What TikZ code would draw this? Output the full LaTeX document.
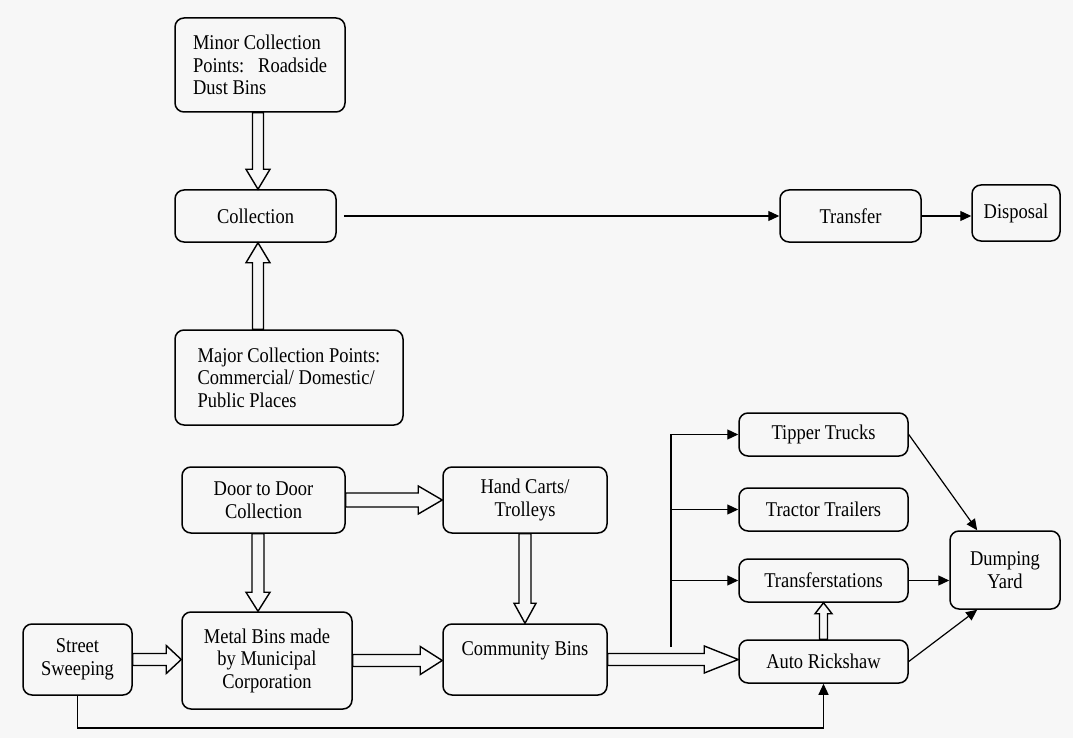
\documentclass[tikz,border=0pt]{standalone}
\usepackage{fontspec}
\setmainfont{LiberationSerif}[Extension=.ttf,UprightFont=*-Regular,BoldFont=*-Bold,ItalicFont=*-Italic,FakeStretch=0.88]
\usetikzlibrary{calc,arrows.meta}

\definecolor{bg}{RGB}{247,247,247}

% hollow block arrow: half shaft, half head, head length, from, to
\newcommand{\blockarrow}[5]{%
  \draw[line width=1.4pt,fill=bg] let \p1=#4, \p2=#5,
      \n1={atan2(\y2-\y1,\x2-\x1)}, \n2={veclen(\x2-\x1,\y2-\y1)} in
    [shift={(\p1)},rotate=\n1]
    (0,-#1) -- ({\n2-#3},-#1) -- ({\n2-#3},-#2) -- (\n2,0)
    -- ({\n2-#3},#2) -- ({\n2-#3},#1) -- (0,#1) -- cycle;}

\tikzset{
  box/.style={draw,line width=1.5pt,rounded corners=9pt,inner sep=0pt,
    align=center,font=\fontsize{21}{22.5}\selectfont},
  note/.style={box,align=left},
  line/.style={line width=1.2pt,-{Triangle[length=11pt,width=10pt]}}
}

\begin{document}
\begin{tikzpicture}[x=1pt,y=-1pt]
            \fill[bg] (0,0) rectangle (1073,738);
            \coordinate (col) at (258,0);
            \coordinate (fork) at (671,647);
            \coordinate (low) at (0,728);

            % top part
            \node[note,minimum width=170pt,minimum height=94pt] (minor) at (260,65) {Minor Collection\\Points:\ \ \ Roadside\\Dust Bins};
            \node[box,minimum width=161pt,minimum height=52pt] (collection) at (255.5,216) {Collection};
            \node[note,minimum width=228pt,minimum height=95pt] (major) at (289,377.5) {Major Collection Points:\\Commercial/ Domestic/\\Public Places};
            \node[box,minimum width=141pt,minimum height=52pt] (transfer) at (850.5,216) {Transfer};
            \node[box,minimum width=88pt,minimum height=56pt] (disposal) at (1016,213) {Disposal};

            \blockarrow{5.5}{12}{20}{(minor.south -| col)}{(collection.north -| col)}
            \blockarrow{5.5}{12}{20}{(major.north -| col)}{(collection.south -| col)}
            \draw[line,shorten <=7pt] (collection.east) -- (transfer.west);
            \draw[line] (transfer.east) -- (transfer.east -| disposal.west);

            % bottom part
            \node[box,minimum width=163pt,minimum height=66pt] (door) at (263.5,500) {Door to Door\\Collection};
            \node[box,minimum width=164pt,minimum height=66pt] (hand) at (525,500) {Hand Carts/\\Trolleys};
            \node[box,minimum width=109pt,minimum height=71pt] (sweep) at (77.5,659.5) {Street\\Sweeping};
            \node[box,minimum width=170pt,minimum height=97pt] (metal) at (267,660.5) {Metal Bins made\\by Municipal\\Corporation};
            \node[box,minimum width=164pt,minimum height=71pt] (comm) at (525,659.5) {Community Bins\\ \mbox{}};
            \node[box,minimum width=169pt,minimum height=43pt] (tipper) at (823.5,434.5) {Tipper Trucks};
            \node[box,minimum width=169pt,minimum height=43pt] (tractor) at (823.5,509.5) {Tractor Trailers};
            \node[box,minimum width=169pt,minimum height=43pt] (transst) at (823.5,580.5) {Transferstations};
            \node[box,minimum width=169pt,minimum height=43pt] (auto) at (823.5,661.5) {Auto Rickshaw};
            \node[box,minimum width=110pt,minimum height=78pt] (dump) at (1005,570) {Dumping\\Yard};

            \blockarrow{7}{14}{24}{(door.east)}{(hand.west)}
            \blockarrow{6}{12}{19}{(door.south -| col)}{(metal.north -| col)}
            \blockarrow{6}{11}{20}{(hand.south)}{(comm.north)}
            \blockarrow{6}{14}{15}{(sweep.east)}{(metal.west |- sweep.east)}
            \blockarrow{6}{14}{22}{(metal.east)}{(comm.west |- metal.east)}
            \blockarrow{6}{13.5}{34}{(comm.east)}{(auto.west |- comm.east)}
            \blockarrow{4}{8.5}{11}{(auto.north)}{(transst.south)}

            \draw[line] (fork) |- (tipper.west);
            \draw[line] (fork |- tractor.west) -- (tractor.west);
            \draw[line] (fork |- transst.west) -- (transst.west);
            \draw[line] (sweep.south) -- (sweep.south |- low) -| (auto.south);
            \draw[line] (tipper.east) -- (dump.125);
            \draw[line] (transst.east) -- (transst.east -| dump.west);
            \draw[line] (auto.east) -- (dump.235);

        \end{tikzpicture}
\end{document}
